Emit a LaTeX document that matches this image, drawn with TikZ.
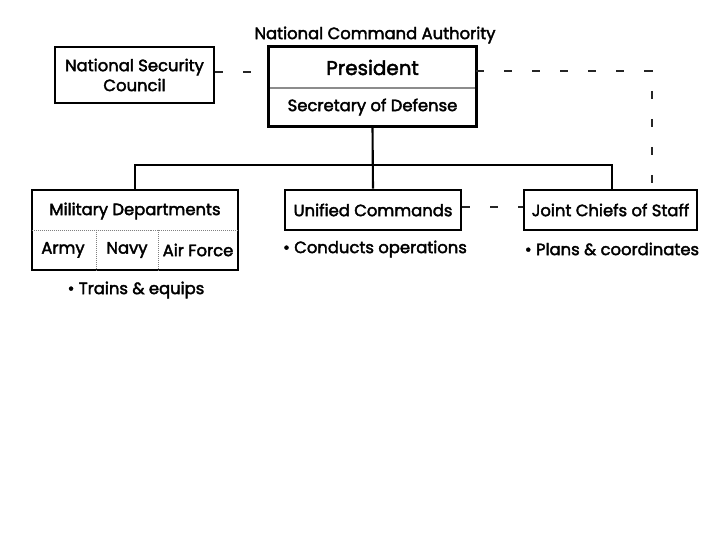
\documentclass[tikz,border=0pt]{standalone}
\usepackage{fontspec}
\setmainfont{Poppins}
\newfontfamily\medfont{Poppins}[FakeBold=2.4]
\usetikzlibrary{positioning}

\begin{document}
\begin{tikzpicture}[
  x=0.03cm, y=-0.03cm,
  every node/.style={align=center, font=\medfont\fontsize{14}{17}\selectfont, inner sep=0pt},
  box/.style={draw=black, line width=2.4pt, fill=white},
  cell/.style={minimum width=6.21cm},
  conn/.style={draw=black, line width=1.8pt},
  dashline/.style={draw=black!85, line width=1.8pt, dash pattern=on 0.24cm off 0.6cm},
  divider/.style={draw=black!45, line width=1.4pt},
  sep/.style={draw=black!50, line width=0.7pt, densely dotted},
  note/.style={font=\medfont\fontsize{14}{17}\selectfont},
]
\useasboundingbox (0,0) rectangle (720,540);
\node (nca) at (375,35) {National Command Authority};
\node[cell, minimum height=1.23cm] (pres) at (372.5,67.5) {\fontsize{17}{19}\selectfont President};
\node[cell, minimum height=1.14cm] (secdef) at (372.5,107) {Secretary of Defense};
\draw[box, fill=none] (pres.north west) rectangle (secdef.south east);
\draw[divider] ([xshift=1.2pt]pres.south west) -- ([xshift=-1.2pt]pres.south east);
\node[box, minimum width=4.77cm, minimum height=1.68cm] (nsc) at (134.5,75) {National Security\\Council};
\draw[dashline] ([yshift=0.09cm]nsc.east) -- ([yshift=0.09cm]nsc.east -| pres.west);
\node[box, minimum width=6.18cm, minimum height=2.4cm] (milit) at (135,230) {};
\node (mildep) at (135,211) {Military Departments};
\node (army) at (63,250) {Army};
\node (navy) at (127,250) {Navy};
\node (airf) at (198,250) {Air Force};
\draw[sep] ([xshift=1.2pt]milit.west) -- ([xshift=-1.2pt]milit.east);
\draw[sep] (milit.center -| 96,0) -- ([yshift=1.2pt]milit.south -| 96,0);
\draw[sep] (milit.center -| 158,0) -- ([yshift=1.2pt]milit.south -| 158,0);
\node[box, minimum width=5.28cm, minimum height=1.2cm] (unified) at (373,210) {Unified Commands};
\node[box, minimum width=5.19cm, minimum height=1.2cm] (jcs) at (610.5,210) {Joint Chiefs of Staff};
\coordinate (bar) at (372.5,165);
\draw[conn] (secdef.south) -- (unified.north);
\draw[conn] (milit.north) |- (bar) -| ([xshift=0.05cm]jcs.north);
\draw[dashline] ([yshift=-0.1cm]pres.east) -| ([xshift=1.25cm]jcs.north);
\draw[dashline] ([yshift=0.1cm]unified.east) -- ([yshift=0.1cm]jcs.west);
\node[note] (trains) at (136,290) {\textbullet\ Trains \& equips};
\node[note] (conducts) at (375,249) {\textbullet\ Conducts operations};
\node[note] (plans) at (612,249) {\textbullet\ Plans \& coordinates};
\end{tikzpicture}
\end{document}
